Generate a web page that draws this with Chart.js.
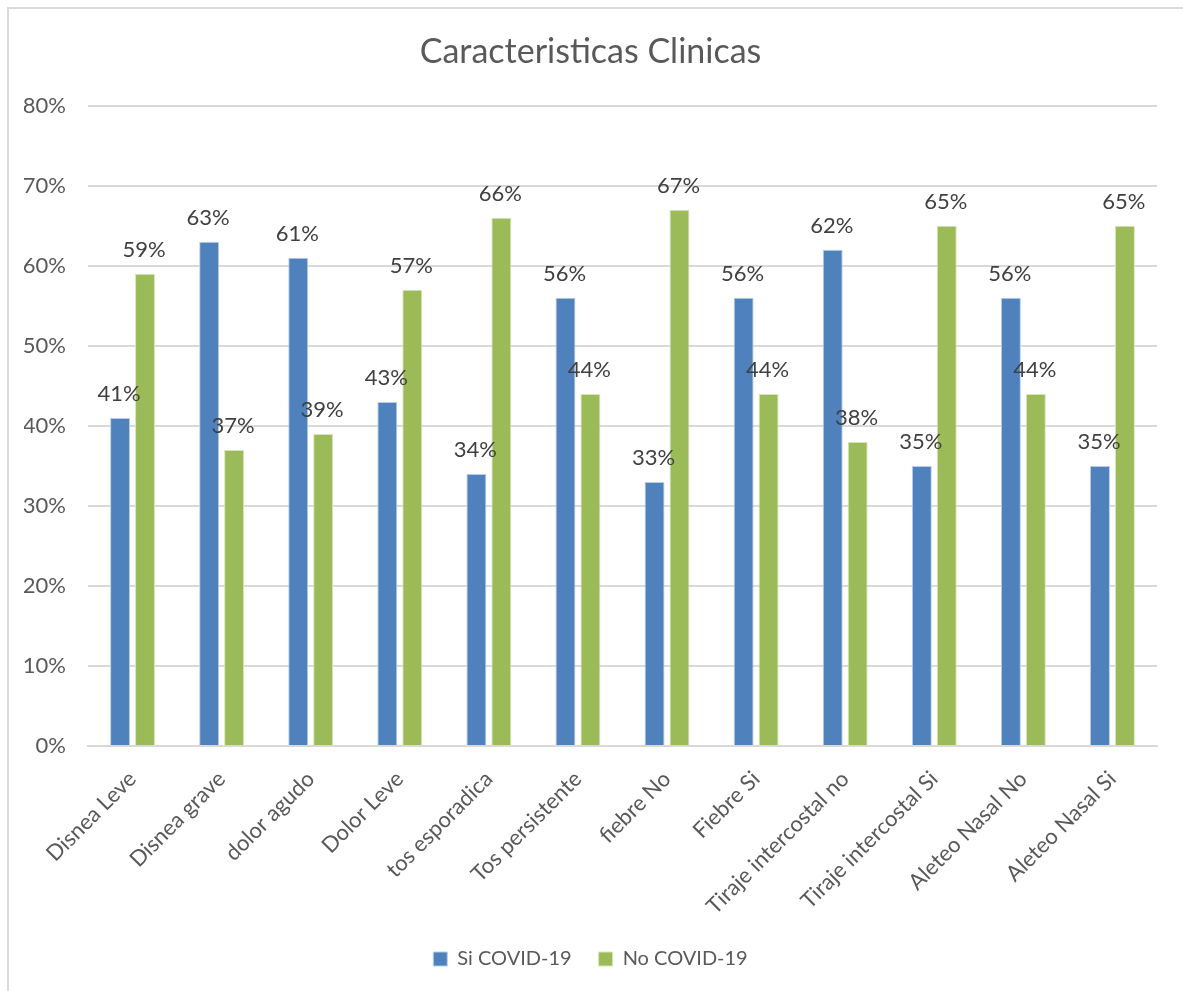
<!DOCTYPE html>
<html>
<head>
<meta charset="utf-8">
<script src="https://cdn.jsdelivr.net/npm/chart.js@4.4.1/dist/chart.umd.min.js"></script>
<style>
  html, body { margin: 0; padding: 0; background: #fff; }
  #wrap { position: absolute; left: 0; top: 0; width: 1183px; height: 991px; }
  #frame { position: absolute; left: 7px; top: 7px; right: 0; bottom: 0;
           border-left: 2px solid #d9d9d9; border-top: 2px solid #d9d9d9; pointer-events: none; }
</style>
</head>
<body>
<div id="wrap">
  <canvas id="c" width="1183" height="991"></canvas>
  <div id="frame"></div>
</div>
<script>
const categories = ['Disnea Leve', 'Disnea grave', 'dolor agudo', 'Dolor Leve', 'tos esporadica',
  'Tos persistente', 'fiebre No', 'Fiebre Si', 'Tiraje intercostal no', 'Tiraje intercostal Si',
  'Aleteo Nasal No', 'Aleteo Nasal Si'];
const siCovid = [41, 63, 61, 43, 34, 56, 33, 56, 62, 35, 56, 35];
const noCovid = [59, 37, 39, 57, 66, 44, 67, 44, 38, 65, 44, 65];
const yTicks = [0, 10, 20, 30, 40, 50, 60, 70, 80];

const FONT = 'Lato, "Open Sans", sans-serif';
const GREY = '#595959';

// draws the value above each bar
const valueLabels = {
  id: 'valueLabels',
  afterDatasetsDraw(chart) {
    const { ctx } = chart;
    ctx.save();
    ctx.font = '22px ' + FONT;
    ctx.fillStyle = '#404040';
    ctx.textAlign = 'center';
    ctx.textBaseline = 'middle';
    chart.data.datasets.forEach((ds, i) => {
      chart.getDatasetMeta(i).data.forEach((bar, j) => {
        ctx.fillText(ds.data[j] + '%', bar.x - 1, bar.y - 24);
      });
    });
    ctx.restore();
  },
};

new Chart(document.getElementById('c'), {
  type: 'bar',
  data: {
    labels: categories,
    datasets: [
      { label: 'Si COVID-19', data: siCovid, backgroundColor: '#4f81bd', borderColor: '#b9cde5', borderWidth: 1 },
      { label: 'No COVID-19', data: noCovid, backgroundColor: '#9bbb59', borderColor: '#d7e4bd', borderWidth: 1 },
    ],
  },
  options: {
    responsive: false,
    animation: false,
    categoryPercentage: 0.56,
    barPercentage: 0.8,
    layout: { padding: { left: 24, right: 26, top: 10, bottom: 24 } },
    scales: {
      x: {
        grid: { display: false, drawTicks: false },
        border: { color: '#d9d9d9', width: 2 },
        ticks: { color: GREY, font: { family: FONT, size: 22 }, minRotation: 45, maxRotation: 45, padding: 20 },
        afterFit: axis => { axis.height = 176; axis.paddingLeft = 0; axis.paddingRight = 0; },
      },
      y: {
        min: 0, max: 80,
        afterBuildTicks: axis => { axis.ticks = yTicks.map(v => ({ value: v })); },
        afterFit: axis => { axis.width = 64; },
        grid: { color: '#d9d9d9', lineWidth: 2, drawTicks: false },
        border: { display: false },
        ticks: { color: GREY, font: { family: FONT, size: 22 }, padding: 22, callback: v => v + '%' },
      },
    },
    plugins: {
      title: { display: true, text: 'Caracteristicas Clinicas', color: GREY,
               font: { family: FONT, size: 34, weight: 'normal' }, padding: { top: 22, bottom: 33 } },
      legend: { position: 'bottom', maxHeight: 45, labels: { color: GREY, font: { family: FONT, size: 20 },
               boxWidth: 14, boxHeight: 14, padding: 27 } },
      tooltip: { enabled: false },
    },
  },
  plugins: [valueLabels],
});
</script>
</body>
</html>
